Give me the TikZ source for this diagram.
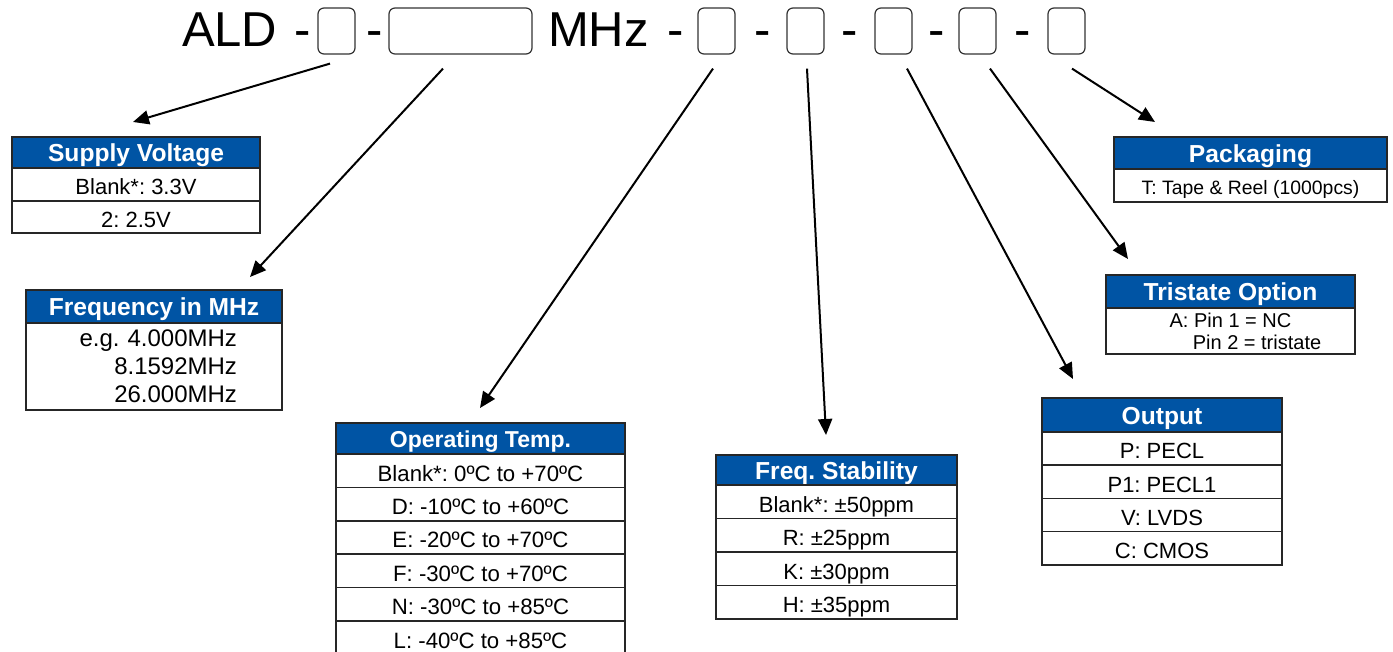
\documentclass[tikz,border=0pt]{standalone}
\usepackage{fontspec}
\setmainfont{Liberation Sans}
\usepackage{tikz}
\usetikzlibrary{arrows.meta, positioning, calc}
\definecolor{hdrblue}{RGB}{0,84,164}
\frenchspacing

\begin{document}
\begin{tikzpicture}[
    x=0.5pt, y=-0.5pt,
    title/.style={anchor=base west, inner sep=0pt, outer sep=0pt, font=\fontsize{24.5}{28}\selectfont},
    slot/.style={rectangle, draw=black!80, line width=0.6pt, rounded corners=3pt, minimum width=18.5pt, minimum height=23pt, inner sep=0pt},
    hdr/.style={rectangle, draw=black!85, line width=0.8pt, fill=hdrblue, text=white, outer sep=0pt, inner sep=0pt, text height=9.3pt, text depth=0pt, font=\fontsize{12.3}{14}\selectfont\bfseries},
    cell/.style={rectangle, draw=black!85, line width=0.8pt, fill=white, outer sep=0pt, inner sep=0pt, text height=10.3pt, text depth=0pt, font=\fontsize{11}{13}\selectfont},
    pointer/.style={draw=black, line width=1pt, -{Triangle[length=8pt, width=7pt]}}
]
    \useasboundingbox[fill=white] (0,0) rectangle (1393,652);

    % Part number line
    \node[title] (ald) at (182,47) {ALD};
    \node[title] (d1) at (294,47) {-};
    \node[slot] (v1) at (336.5,31) {};
    \node[title] (d2) at (366,47) {-};
    \node[slot, minimum width=71.5pt] (vf) at (460.5,31) {};
    \node[title] (mhz) at (548,47) {MHz};
    \node[title] (d3) at (667,47) {-};
    \node[slot] (vt) at (716.5,31) {};
    \node[title] (d4) at (754,47) {-};
    \node[slot] (vs) at (805.5,31) {};
    \node[title] (d5) at (841,47) {-};
    \node[slot] (vo) at (893.5,31) {};
    \node[title] (d6) at (928,47) {-};
    \node[slot] (vtr) at (977.5,31) {};
    \node[title] (d7) at (1014,47) {-};
    \node[slot] (vp) at (1066.5,31) {};

    % Supply Voltage
    \node[hdr, anchor=north west, minimum width=124pt, minimum height=15.5pt] (svh) at (12,137) {Supply Voltage};
    \node[cell, minimum width=124pt, minimum height=16.5pt, below=0pt of svh] (sv1) {Blank*: 3.3V};
    \node[cell, minimum width=124pt, minimum height=16pt, below=0pt of sv1] (sv2) {2: 2.5V};

    % Frequency
    \node[hdr, anchor=north west, minimum width=128pt, minimum height=16.5pt] (frh) at (26,290) {Frequency in MHz};
    \node[cell, minimum width=128pt, minimum height=43.5pt, text height=, text depth=, inner xsep=22.5pt, text width=83pt, align=right, font=\fontsize{12}{14}\selectfont, below=0pt of frh] (fr1) {e.g. 4.000MHz\\8.1592MHz\\26.000MHz};

    % Operating Temp.
    \node[hdr, anchor=north west, minimum width=144.5pt, minimum height=15.5pt, text height=8.7pt, font=\fontsize{11.5}{13}\selectfont\bfseries] (oth) at (336,423) {Operating Temp.};
    \node[cell, minimum width=144.5pt, minimum height=16.7pt, font=\fontsize{11.1}{13}\selectfont, below=0pt of oth] (ot1) {Blank*: 0ºC to +70ºC};
    \node[cell, minimum width=144.5pt, minimum height=16.7pt, font=\fontsize{11.1}{13}\selectfont, below=0pt of ot1] (ot2) {D: -10ºC to +60ºC};
    \node[cell, minimum width=144.5pt, minimum height=16.7pt, font=\fontsize{11.1}{13}\selectfont, below=0pt of ot2] (ot3) {E: -20ºC to +70ºC};
    \node[cell, minimum width=144.5pt, minimum height=16.7pt, font=\fontsize{11.1}{13}\selectfont, below=0pt of ot3] (ot4) {F: -30ºC to +70ºC};
    \node[cell, minimum width=144.5pt, minimum height=16.7pt, font=\fontsize{11.1}{13}\selectfont, below=0pt of ot4] (ot5) {N: -30ºC to +85ºC};
    \node[cell, minimum width=144.5pt, minimum height=16.7pt, font=\fontsize{11.1}{13}\selectfont, below=0pt of ot5] (ot6) {L: -40ºC to +85ºC};

    % Freq. Stability
    \node[hdr, anchor=north west, minimum width=120.5pt, minimum height=15pt] (fsh) at (716,455) {Freq. Stability};
    \node[cell, minimum width=120.5pt, minimum height=16.75pt, below=0pt of fsh] (fs1) {Blank*: ±50ppm};
    \node[cell, minimum width=120.5pt, minimum height=16.75pt, below=0pt of fs1] (fs2) {R: ±25ppm};
    \node[cell, minimum width=120.5pt, minimum height=16.75pt, below=0pt of fs2] (fs3) {K: ±30ppm};
    \node[cell, minimum width=120.5pt, minimum height=16.75pt, below=0pt of fs3] (fs4) {H: ±35ppm};

    % Output
    \node[hdr, anchor=north west, minimum width=120pt, minimum height=17pt] (outh) at (1042,398) {Output};
    \node[cell, minimum width=120pt, minimum height=16.6pt, below=0pt of outh] (out1) {P: PECL};
    \node[cell, minimum width=120pt, minimum height=16.6pt, below=0pt of out1] (out2) {P1: PECL1};
    \node[cell, minimum width=120pt, minimum height=16.6pt, below=0pt of out2] (out3) {V: LVDS};
    \node[cell, minimum width=120pt, minimum height=16.6pt, below=0pt of out3] (out4) {C: CMOS};

    % Tristate Option
    \node[hdr, anchor=north west, minimum width=124.5pt, minimum height=16.5pt] (trh) at (1106,275) {Tristate Option};
    \node[cell, minimum width=124.5pt, minimum height=23pt, text height=, text depth=, align=center, font=\fontsize{10}{11}\selectfont, below=0pt of trh] (tr1) {A: Pin 1 = NC\\\hspace*{26.5pt}Pin 2 = tristate};

    % Packaging
    \node[hdr, anchor=north west, minimum width=136.5pt, minimum height=16pt] (pkh) at (1114,137) {Packaging};
    \node[cell, minimum width=136.5pt, minimum height=16.5pt, text height=9pt, font=\fontsize{9.7}{11}\selectfont, below=0pt of pkh] (pk1) {T: Tape \& Reel (1000pcs)};

    % Arrows
    \coordinate (a1) at ($(v1.south)+(-6.5,9)$);
    \coordinate (a2) at ($(vf.south)+(-17.5,14)$);
    \coordinate (a3) at ($(vt.south)+(-3.5,14)$);
    \coordinate (a4) at ($(vs.south)+(1.5,14)$);
    \coordinate (a5) at ($(vo.south)+(13.5,14)$);
    \coordinate (a6) at ($(vtr.south)+(12.5,14)$);
    \coordinate (a7) at ($(vp.south)+(5.5,14)$);
    \coordinate (b1) at ($(svh.north)+(-3,-15)$);
    \coordinate (b2) at ($(frh.north)+(96,-13)$);
    \coordinate (b3) at ($(oth.north)+(-0.5,-15)$);
    \coordinate (b4) at ($(fsh.north)+(-10.5,-20)$);
    \coordinate (b5) at ($(outh.north)+(-89,-19)$);
    \coordinate (b6) at ($(trh.north)+(-102.5,-16)$);
    \coordinate (b7) at ($(pkh.north)+(-95.5,-15)$);
    \draw[pointer] (a1) -- (b1);
    \draw[pointer] (a2) -- (b2);
    \draw[pointer] (a3) -- (b3);
    \draw[pointer] (a4) -- (b4);
    \draw[pointer] (a5) -- (b5);
    \draw[pointer] (a6) -- (b6);
    \draw[pointer] (a7) -- (b7);
\end{tikzpicture}
\end{document}
